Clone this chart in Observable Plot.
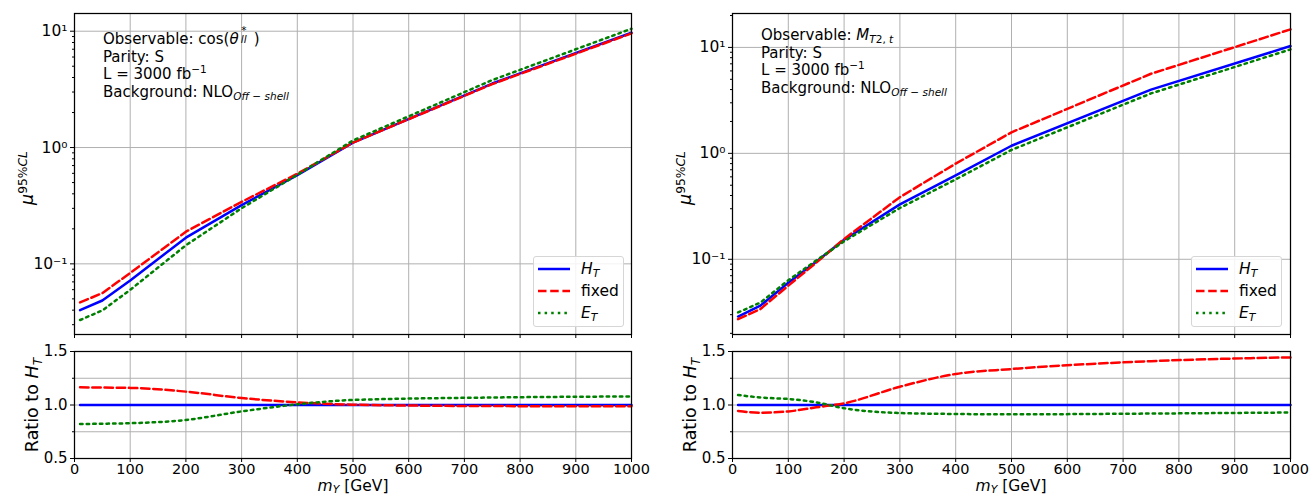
<!DOCTYPE html>
<html><head><meta charset="utf-8">
<script src="https://cdn.jsdelivr.net/npm/d3@7"></script>
<script src="https://cdn.jsdelivr.net/npm/@observablehq/plot@0.6"></script>
<style>
body{margin:0;background:#fff;font-family:"DejaVu Sans",sans-serif;}
#root{position:relative;width:1309px;height:497px;overflow:hidden;background:#fff;}
.p{position:absolute;}
.t{position:absolute;font-size:15.5px;color:#000;white-space:nowrap;line-height:1;}
.t sub{vertical-align:-0.15em;}
.ann{position:absolute;font-size:15px;line-height:17.6px;color:#000;white-space:nowrap;}
sub{font-size:70%;vertical-align:-0.3em;line-height:0;}
sup{font-size:70%;vertical-align:0.55em;line-height:0;}
.ss{display:inline-block;position:relative;width:1.0em;height:1em;vertical-align:baseline;}
.ss .a{position:absolute;left:0.25em;top:-0.32em;font-size:70%;line-height:0.8;}
.ss .b{position:absolute;left:0.2em;top:0.55em;font-size:70%;line-height:0.9;}
.rot{position:absolute;transform:translate(-50%,-50%) rotate(-90deg);font-size:17.5px;white-space:nowrap;line-height:1;}
.leg{position:absolute;border:1px solid #d6d6d6;border-radius:3px;background:rgba(255,255,255,0.85);font-size:15.5px;}
.leg .row{position:absolute;left:0;height:20px;display:flex;align-items:center;}
.leg svg{display:block;}
</style></head><body><div id="root"></div><script>
// ---------------- data ----------------
// Left panel: Observable cos(theta*_ll)
const massL = [10, 50, 100, 200, 300, 400, 500, 750, 1000];
const htL    = [0.040, 0.0484, 0.072, 0.168, 0.320, 0.580, 1.10, 3.55, 9.70];
const fixedL = [0.0466, 0.0560, 0.0835, 0.189, 0.341, 0.595, 1.103, 3.51, 9.58];
const etL    = [0.0329, 0.0398, 0.0598, 0.1445, 0.301, 0.583, 1.15, 3.80, 10.5];
const ratioHtL    = [1, 1, 1, 1, 1, 1, 1, 1, 1];
const ratioFixedL = [1.165, 1.163, 1.160, 1.125, 1.065, 1.025, 1.003, 0.990, 0.988];
const ratioEtL    = [0.822, 0.825, 0.830, 0.860, 0.940, 1.006, 1.047, 1.070, 1.080];

// Right panel: Observable M_T2,t
const massR = [10, 50, 100, 150, 200, 300, 400, 500, 750, 1000];
const htR    = [0.0288, 0.0365, 0.060, 0.095, 0.153, 0.330, 0.620, 1.18, 4.00, 10.3];
const fixedR = [0.0272, 0.0339, 0.0564, 0.0929, 0.1555, 0.386, 0.800, 1.58, 5.64, 14.8];
const etR    = [0.0315, 0.0390, 0.0634, 0.0974, 0.148, 0.305, 0.568, 1.077, 3.68, 9.58];
const ratioHtR    = [1, 1, 1, 1, 1, 1, 1, 1, 1, 1];
const ratioFixedR = [0.944, 0.928, 0.940, 0.978, 1.016, 1.171, 1.290, 1.336, 1.410, 1.445];
const ratioEtR    = [1.093, 1.070, 1.056, 1.025, 0.970, 0.925, 0.916, 0.913, 0.920, 0.930];

// ticks
const xTicks = [0, 100, 200, 300, 400, 500, 600, 700, 800, 900, 1000];
const decadeTicks = [0.1, 1, 10];
const minorL = [0.03,0.04,0.05,0.06,0.07,0.08,0.09,0.2,0.3,0.4,0.5,0.6,0.7,0.8,0.9,2,3,4,5,6,7,8,9];
const minorR = [0.02,0.03,0.04,0.05,0.06,0.07,0.08,0.09,0.2,0.3,0.4,0.5,0.6,0.7,0.8,0.9,2,3,4,5,6,7,8,9,20];
const ratioTicks = [0.5, 1.0, 1.5];
const ratioMinor = [0.75, 1.25];
const ratioGrid = [0.5, 0.75, 1.0, 1.25, 1.5];
const yDomainL = [0.0247, 14.2];
const yDomainR = [0.0195, 20.9];

// ---------------- drawing ----------------
const root = document.getElementById("root");
const GRID = {stroke: "#b0b0b0", strokeOpacity: 1, strokeWidth: 1};
const S_HT = {stroke: "#0000ff", strokeWidth: 2.5};
const S_FX = {stroke: "#ff0000", strokeWidth: 2.5, strokeDasharray: "8.5,3.7"};
const S_ET = {stroke: "#008000", strokeWidth: 2.5, strokeDasharray: "2.5,4.1"};
const supMap = {"-": "\u207B", "0": "\u2070", "1": "\u00B9", "2": "\u00B2", "3": "\u00B3"};
const supFmt = d => "10" + String(Math.round(Math.log10(d))).split("").map(c => supMap[c]).join("");
const rows = (x, y) => x.map((m, i) => ({x: m, y: y[i]}));
const baseStyle = {fontFamily: "DejaVu Sans", fontSize: "15px", background: "transparent", overflow: "visible", color: "#000"};

function place(el, left, top) {
  const d = document.createElement("div");
  d.className = "p"; d.style.left = left + "px"; d.style.top = top + "px";
  d.appendChild(el); root.appendChild(d);
}

function topPlot(x, ht, fx, et, yDomain, minor, width, ml, mr) {
  return Plot.plot({
    width, height: 345, marginLeft: ml, marginRight: mr, marginTop: 13, marginBottom: 11,
    style: baseStyle,
    x: {domain: [0, 1000]},
    y: {type: "log", domain: yDomain},
    marks: [
      Plot.gridX(xTicks, GRID),
      Plot.gridY(decadeTicks, GRID),
      Plot.axisX(xTicks, {tickFormat: () => "", tickSize: 4, label: null}),
      Plot.axisY(decadeTicks, {tickFormat: supFmt, tickSize: 4, tickPadding: 3, label: null, fontSize: 15.5}),
      Plot.axisY(minor, {tickFormat: () => "", tickSize: 2, label: null}),
      Plot.line(rows(x, ht), {x: "x", y: "y", ...S_HT}),
      Plot.line(rows(x, fx), {x: "x", y: "y", ...S_FX}),
      Plot.line(rows(x, et), {x: "x", y: "y", ...S_ET}),
      Plot.frame({stroke: "#000", strokeWidth: 1.25})
    ]
  });
}

function ratioPlot(x, rh, rf, re, width, ml, mr) {
  return Plot.plot({
    width, height: 157, marginLeft: ml, marginRight: mr, marginTop: 11, marginBottom: 39,
    style: baseStyle,
    x: {domain: [0, 1000]},
    y: {domain: [0.5, 1.5]},
    marks: [
      Plot.gridX(xTicks, GRID),
      Plot.gridY(ratioGrid, GRID),
      Plot.axisX(xTicks, {tickFormat: d3.format("d"), tickSize: 4, tickPadding: 1, label: null, fontSize: 14.5}),
      Plot.axisY(ratioTicks, {tickFormat: d3.format(".1f"), tickSize: 4, tickPadding: 3, label: null, fontSize: 15}),
      Plot.axisY(ratioMinor, {tickFormat: () => "", tickSize: 2, label: null}),
      Plot.line(rows(x, rh), {x: "x", y: "y", ...S_HT}),
      Plot.line(rows(x, rf), {x: "x", y: "y", curve: "monotone-x", ...S_FX}),
      Plot.line(rows(x, re), {x: "x", y: "y", curve: "monotone-x", ...S_ET}),
      Plot.frame({stroke: "#000", strokeWidth: 1.25})
    ]
  });
}

place(topPlot(massL, htL, fixedL, etL, yDomainL, minorL, 654, 74, 23), 0, 0);
place(topPlot(massR, htR, fixedR, etR, yDomainR, minorR, 655, 78, 19), 654, 0);
place(ratioPlot(massL, ratioHtL, ratioFixedL, ratioEtL, 654, 74, 23), 0, 340);
place(ratioPlot(massR, ratioHtR, ratioFixedR, ratioEtR, 655, 78, 19), 654, 340);

function addHTML(cls, left, top, html) {
  const d = document.createElement("div");
  d.className = cls; d.style.left = left + "px"; d.style.top = top + "px";
  d.innerHTML = html; root.appendChild(d); return d;
}

// annotations
addHTML("ann", 103, 29,
  'Observable: cos(<i>θ</i><span class="ss"><span class="a">*</span><i class="b">ll</i></span>)<br>Parity: S<br>L = 3000 fb<sup>−1</sup><br>Background: NLO<sub><i>Off</i> − <i>shell</i></sub>');
addHTML("ann", 761, 27,
  'Observable: <i>M</i><sub><i>T</i>2, <i>t</i></sub><br>Parity: S<br>L = 3000 fb<sup>−1</sup><br>Background: NLO<sub><i>Off</i> − <i>shell</i></sub>');

// axis labels
const muLabel = '<i>μ</i><sup><span style="font-style:normal">95%</span><i>CL</i></sup>';
addHTML("rot", 28, 178, muLabel);
addHTML("rot", 686, 178, muLabel);
addHTML("rot", 33, 405, 'Ratio to <i>H</i><sub><i>T</i></sub>');
addHTML("rot", 691, 405, 'Ratio to <i>H</i><sub><i>T</i></sub>');
const xl1 = addHTML("t", 353, 479, '<i>m</i><sub><i>Y</i></sub> [GeV]'); xl1.style.transform = "translateX(-50%)";
const xl2 = addHTML("t", 1011, 479, '<i>m</i><sub><i>Y</i></sub> [GeV]'); xl2.style.transform = "translateX(-50%)";

// legends
const legendEntries = [
  {label: '<i>H</i><sub><i>T</i></sub>', s: S_HT},
  {label: 'fixed', s: S_FX},
  {label: '<i>E</i><sub><i>T</i></sub>', s: S_ET}
];
function legend(left, top) {
  const box = addHTML("leg", left, top, "");
  box.style.width = "89px"; box.style.height = "69px";
  legendEntries.forEach((e, i) => {
    const r = document.createElement("div");
    r.className = "row"; r.style.top = (2 + i * 22) + "px";
    const dash = e.s.strokeDasharray ? ` stroke-dasharray="${e.s.strokeDasharray}"` : "";
    r.innerHTML = `<svg width="47" height="20"><line x1="4" x2="36" y1="10" y2="10" stroke="${e.s.stroke}" stroke-width="${e.s.strokeWidth}"${dash}/></svg><span>${e.label}</span>`;
    box.appendChild(r);
  });
}
legend(533, 256);
legend(1191, 256);
</script></body></html>
